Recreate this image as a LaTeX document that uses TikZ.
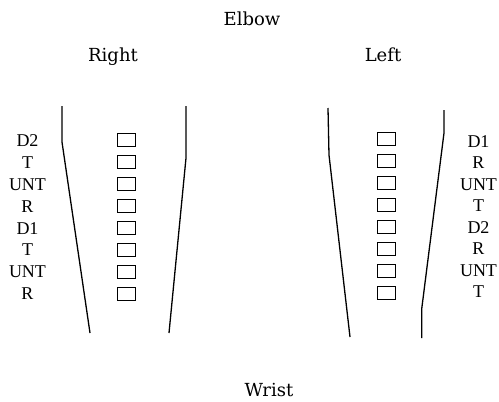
\documentclass[tikz,border=0pt]{standalone}
\usepackage{fontspec}
\setmainfont{Liberation Serif}
\newfontfamily\headfont{DejaVu Serif}
\usetikzlibrary{positioning}

\tikzset{
  testbox/.style={draw, line width=0.9pt, minimum width=18pt, minimum height=13pt, inner sep=0pt},
  sidelabel/.style={font=\fontsize{18}{20}\selectfont, inner sep=0pt},
  heading/.style={font=\headfont\fontsize{18}{20}\selectfont, inner sep=0pt, anchor=base},
  forearm/.style={line width=1.3pt, line join=round}
}

\begin{document}
\begin{tikzpicture}[x=1pt, y=-1pt]
  \useasboundingbox (0,0) rectangle (499,402);
  \node[heading] (elbow) at (252,25) {Elbow};
  \node[heading] (right) at (113,61.7) {Right};
  \node[heading] (left) at (383,61.7) {Left};
  \node[heading] (wrist) at (269,396.7) {Wrist};

  % right forearm
  \draw[forearm] (62,106) -- (62,142) -- (90,333);
  \draw[forearm] (186,106) -- (186,158) -- (169,333);
  \foreach \lab [count=\i from 0] in {D2,T,UNT,R,D1,T,UNT,R} {
    \node[testbox] (rbox\i) at (126,139.5+22*\i) {};
    \node[sidelabel] (rlab\i) at (27.5,140.5+21.9*\i) {\lab};
  }

  % left forearm
  \draw[forearm] (328,108) -- (329,155) -- (350,337);
  \draw[forearm] (444,110) -- (444,133) -- (421.7,309) -- (421.7,338);
  \foreach \lab [count=\i from 0] in {D1,R,UNT,T,D2,R,UNT,T} {
    \node[testbox] (lbox\i) at (386,138.5+22*\i) {};
    \node[sidelabel] (llab\i) at (478.5,141.5+21.5*\i) {\lab};
  }
\end{tikzpicture}
\end{document}
